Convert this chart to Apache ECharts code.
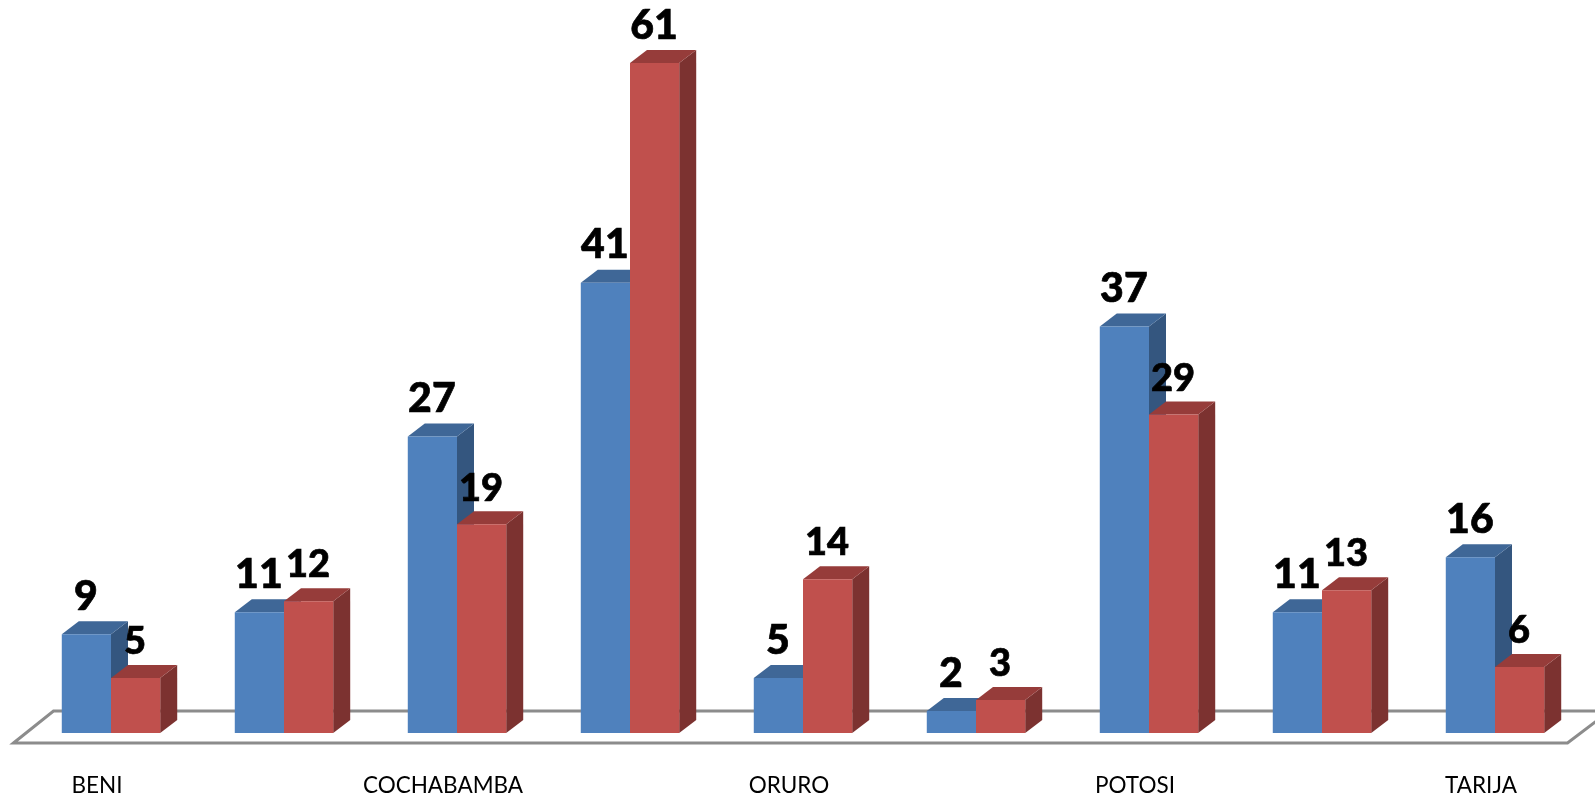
<!DOCTYPE html>
<html><head><meta charset="utf-8">
<style>html,body{margin:0;padding:0;background:#fff}#c{width:1595px;height:797px}</style>
<script src="https://cdn.jsdelivr.net/npm/echarts@6/dist/echarts.min.js"></script>
</head><body><div id="c"></div>
<script>
var categories = ['BENI','CHUQUISACA','COCHABAMBA','LA PAZ','ORURO','PANDO','POTOSI','SANTA CRUZ','TARIJA'];
var seriesBlue = [9,11,27,41,5,2,37,11,16];
var seriesRed  = [5,12,19,61,14,3,29,13,6];
var DX = 17, DY = 13, BAR = 0.2845;
function bar3d(side, front, top, dark, fontSize){
  return function(params, api){
    var i = api.value(0), v = api.value(1);
    var base = api.coord([i,0]), t = api.coord([i,v]);
    var w = api.size([1,0])[0]*BAR;
    var x0 = side<0 ? base[0]-w : base[0], x1 = x0+w, yb = base[1], yt = t[1];
    var size = v > 40 ? 41 : fontSize;
    return {type:'group',children:[
      {type:'polygon',shape:{points:[[x1,yb],[x1+DX,yb-DY],[x1+DX,yt-DY],[x1,yt]]},style:{fill:dark}},
      {type:'polygon',shape:{points:[[x0,yt],[x0+DX,yt-DY],[x1+DX,yt-DY],[x1,yt]]},style:{fill:top}},
      {type:'rect',shape:{x:x0,y:yt,width:w,height:yb-yt},style:{fill:front}},
      {type:'text',z2:10,style:{text:String(v),x:(x0+x1)/2-0.5,y:yt-DY-4,textAlign:'center',textVerticalAlign:'bottom',
        font:'900 '+size+'px Lato',fill:'#000',stroke:'#000',lineWidth:0.7}}
    ]};
  };
}
function floor(params, api){
  var l = api.coord([0,0]), r = api.coord([categories.length-1,0]), h = api.size([1,0])[0]/2;
  var a = l[0]-h, b = r[0]+h, y = l[1];
  return {type:'polygon',shape:{points:[[a-11,y+10],[a+29,y-22],[b+28,y-22],[b-14,y+10]]},
    style:{fill:'#fff',stroke:'#8c8c8c',lineWidth:3}};
}
var chart = echarts.init(document.getElementById('c'));
chart.setOption({
  animation:false,backgroundColor:'#fff',
  grid:{left:24.5,width:1557,top:63,height:670},
  xAxis:{type:'category',data:categories,axisLine:{show:false},axisTick:{show:false},
    axisLabel:{interval:1,margin:41,color:'#000',fontFamily:'Lato',fontSize:22.5,padding:[0,28,0,0]}},
  yAxis:{type:'value',min:0,max:61,show:false,splitLine:{show:false}},
  series:[
    {type:'custom',clip:false,silent:true,z:1,renderItem:floor,data:[[0,0]]},
    {type:'custom',clip:false,z:2,name:'A',renderItem:bar3d(-1,'#4f81bd','#3f6797','#34567f',41),
      data:seriesBlue.map(function(v,i){return [i,v];}),encode:{x:0,y:1}},
    {type:'custom',clip:false,z:3,name:'B',renderItem:bar3d(1,'#c0504d','#963c3a','#7c3230',38),
      data:seriesRed.map(function(v,i){return [i,v];}),encode:{x:0,y:1}}
  ]
});
</script></body></html>
